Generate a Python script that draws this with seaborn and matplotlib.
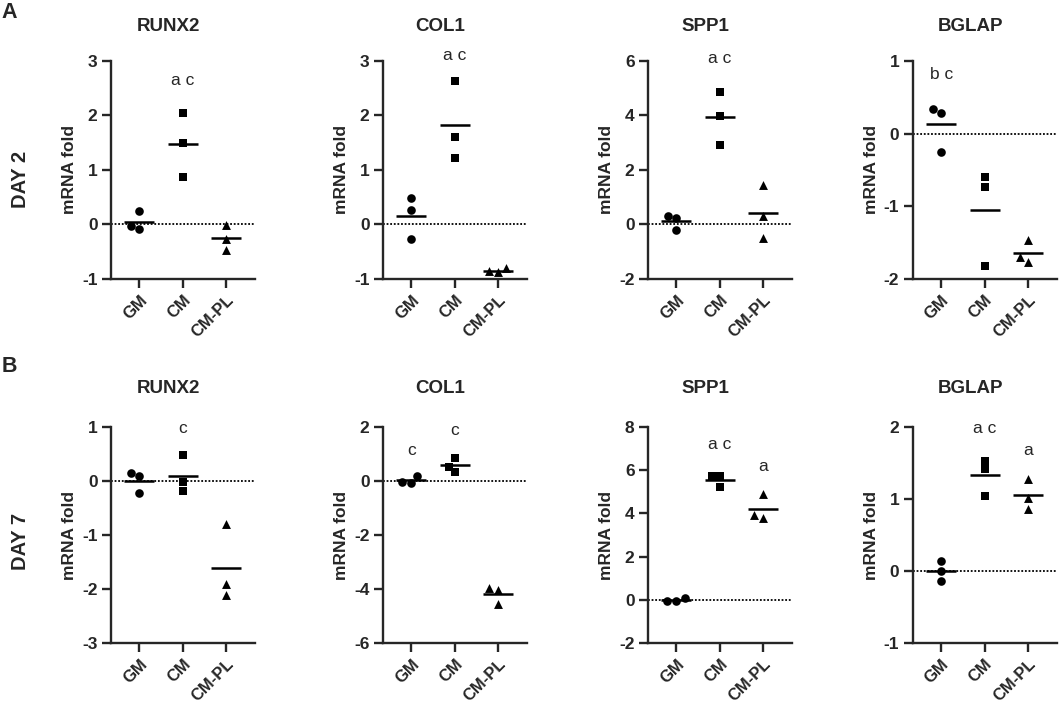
import numpy as np
import pandas as pd
import matplotlib
matplotlib.use("Agg")
import matplotlib.pyplot as plt
import seaborn as sns

# groups and genes
groups = ["GM", "CM", "CM-PL"]
genes = ["RUNX2", "COL1", "SPP1", "BGLAP"]
days = ["DAY 2", "DAY 7"]

# mRNA fold values (3 replicates per group: GM, CM, CM-PL)
d2_runx2 = [[0.24, -0.08, -0.03], [2.05, 1.50, 0.87], [-0.01, -0.26, -0.46]]
d2_col1 = [[0.49, 0.26, -0.27], [2.64, 1.60, 1.22], [-0.88, -0.80, -0.86]]
d2_spp1 = [[0.33, 0.25, -0.20], [4.88, 3.99, 2.91], [1.46, 0.31, -0.48]]
d2_bglap = [[0.34, 0.29, -0.25], [-0.59, -0.74, -1.82], [-1.47, -1.76, -1.70]]

d7_runx2 = [[0.14, 0.10, -0.23], [0.48, -0.02, -0.19], [-0.79, -1.91, -2.11]]
d7_col1 = [[-0.08, 0.17, -0.02], [0.87, 0.34, 0.52], [-3.96, -4.03, -4.57]]
d7_spp1 = [[-0.06, 0.08, -0.06], [5.72, 5.20, 5.72], [4.92, 3.77, 3.91]]
d7_bglap = [[0.135, 0.0, -0.137], [1.53, 1.41, 1.04], [1.28, 1.02, 0.86]]

# y ticks per panel
d2_ticks = [[-1, 0, 1, 2, 3], [-1, 0, 1, 2, 3], [-2, 0, 2, 4, 6], [-2, -1, 0, 1]]
d7_ticks = [[-3, -2, -1, 0, 1], [-6, -4, -2, 0, 2], [-2, 0, 2, 4, 6, 8], [-1, 0, 1, 2]]

# significance letters: (group, text, y)
d2_letters = [[("CM", "a c", 2.65)], [("CM", "a c", 3.11)],
              [("CM", "a c", 6.1)], [("GM", "b c", 0.81)]]
d7_letters = [[("CM", "c", 0.97)], [("GM", "c", 1.14), ("CM", "c", 1.88)],
              [("CM", "a c", 7.17), ("CM-PL", "a", 6.18)],
              [("CM", "a c", 1.98), ("CM-PL", "a", 1.68)]]

sns.set_style("ticks")
plt.rcParams["font.family"] = ["Liberation Sans", "DejaVu Sans"]
plt.rcParams["axes.unicode_minus"] = False

W, H = 1059, 703
fig = plt.figure(figsize=(W / 100, H / 100), dpi=100)

lefts = [110.7, 382.7, 647.7, 912.5]
ax_w = 144.5
rows = [(61, 279), (427, 643)]
markers = ["o", "s", "^"]
sizes = [6.2, 5.4, 6.4]

all_vals = [[d2_runx2, d2_col1, d2_spp1, d2_bglap], [d7_runx2, d7_col1, d7_spp1, d7_bglap]]
all_ticks = [d2_ticks, d7_ticks]
all_letters = [d2_letters, d7_letters]
title_y = [1.156, 1.18]

for r, (top, bot) in enumerate(rows):
    for c, gene in enumerate(genes):
        ax = fig.add_axes([lefts[c] / W, 1 - bot / H, ax_w / W, (bot - top) / H])
        vals = all_vals[r][c]
        df = pd.DataFrame({"group": np.repeat(groups, 3),
                           "fold": np.concatenate(vals)})

        ax.axhline(0, color="black", ls=(0, (1, 1)), lw=1.3, zorder=1)
        for g, m, s in zip(groups, markers, sizes):
            sns.swarmplot(data=df[df.group == g], x="group", y="fold", order=groups,
                          marker=m, size=s, color="black", linewidth=0, ax=ax, zorder=3)
        sns.pointplot(data=df, x="group", y="fold", order=groups, errorbar=None,
                      color="black", marker="_", markersize=21, markeredgewidth=1.8,
                      linestyle="none", ax=ax, zorder=4)

        yt = all_ticks[r][c]
        ax.set_ylim(yt[0], yt[-1])
        ax.set_yticks(yt)
        ax.set_yticklabels([str(t) for t in yt], fontweight="bold", fontsize=12.5)
        ax.set_xlim(-0.66, 2.67)
        ax.set_xticks(range(3))
        ax.set_xticklabels(groups, rotation=45, ha="right", va="top",
                           rotation_mode="anchor", fontweight="bold", fontsize=12)
        ax.set_xlabel("")
        ax.set_ylabel("mRNA fold", fontweight="bold", fontsize=12.5)
        ax.yaxis.set_label_coords(-0.235, 0.5)
        sns.despine(ax=ax)
        for sp in ["left", "bottom"]:
            ax.spines[sp].set_linewidth(1.7)
        ax.tick_params(width=1.7, length=6.5, direction="out", pad=3)

        for g, txt, y in all_letters[r][c]:
            ax.text(groups.index(g), y, txt, ha="center", va="center",
                    fontsize=12.5, clip_on=False)
        ax.text(0.40, title_y[r], gene, transform=ax.transAxes, ha="center",
                va="center", fontweight="bold", fontsize=13.5)

fig.text(20 / W, 1 - 179 / H, days[0], rotation=90, ha="center", va="center",
         fontweight="bold", fontsize=14.5)
fig.text(20 / W, 1 - 541 / H, days[1], rotation=90, ha="center", va="center",
         fontweight="bold", fontsize=14.5)
fig.text(9 / W, 1 - 13 / H, "A", ha="center", va="center", fontweight="bold", fontsize=15.5)
fig.text(9 / W, 1 - 367 / H, "B", ha="center", va="center", fontweight="bold", fontsize=15.5)

fig.savefig("out.png", dpi=100, facecolor="white")
